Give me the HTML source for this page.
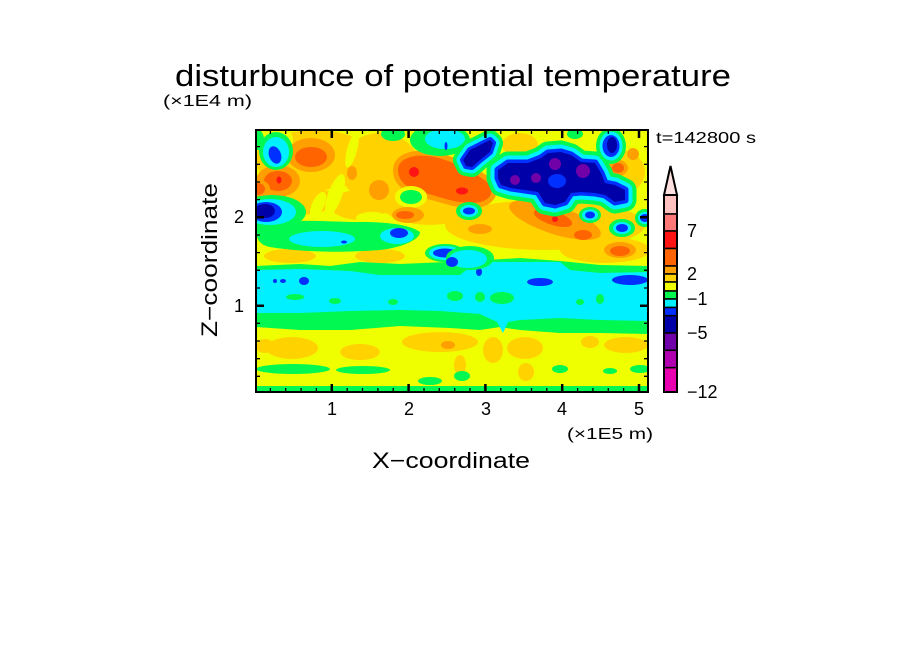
<!DOCTYPE html>
<html><head><meta charset="utf-8"><style>
html,body{margin:0;padding:0;background:#fff;}
svg{display:block;}
text{font-family:"Liberation Sans",sans-serif;fill:#000;}
</style></head><body>
<svg width="904" height="654" viewBox="0 0 904 654" xmlns="http://www.w3.org/2000/svg">
<rect width="904" height="654" fill="#fff"/>
<defs><clipPath id="c"><rect x="256" y="130" width="392" height="262"/></clipPath></defs>

<text x="175" y="86" font-size="31" textLength="556" lengthAdjust="spacingAndGlyphs">disturbunce of potential temperature</text>
<text x="163" y="106" font-size="16" textLength="89" lengthAdjust="spacingAndGlyphs">(×1E4 m)</text>
<text x="656" y="143" font-size="16" textLength="100" lengthAdjust="spacingAndGlyphs">t=142800 s</text>

<g clip-path="url(#c)">
<rect x="256" y="130" width="392" height="262" fill="#f0ff00"/>
<g fill="#ffd200">
<ellipse cx="315" cy="160" rx="60" ry="30"/>
<ellipse cx="380" cy="168" rx="40" ry="35"/>
<ellipse cx="300" cy="200" rx="35" ry="15"/>
<ellipse cx="360" cy="205" rx="30" ry="15"/>
<ellipse cx="430" cy="195" rx="55" ry="30"/>
<ellipse cx="545" cy="225" rx="100" ry="25"/>
<ellipse cx="620" cy="172" rx="25" ry="22"/>
<ellipse cx="605" cy="250" rx="45" ry="13"/>
<ellipse cx="290" cy="256" rx="26" ry="7"/>
<ellipse cx="380" cy="256" rx="25" ry="7"/>
<ellipse cx="480" cy="232" rx="25" ry="10"/>
<ellipse cx="520" cy="145" rx="18" ry="12"/>
</g>
<g fill="#f0ff00">
<ellipse cx="335" cy="195" rx="7" ry="22" transform="rotate(20 335 195)"/>
<ellipse cx="352" cy="150" rx="5" ry="18" transform="rotate(15 352 150)"/>
<ellipse cx="318" cy="205" rx="6" ry="14" transform="rotate(25 318 205)"/>
<ellipse cx="372" cy="218" rx="16" ry="6"/>
<ellipse cx="285" cy="140" rx="8" ry="10"/>
</g>
<ellipse cx="311" cy="155" rx="24" ry="17" fill="#ffa000"/>
<ellipse cx="311" cy="157" rx="16" ry="10" fill="#ff6400"/>
<ellipse cx="278" cy="181" rx="22" ry="16" fill="#ffa000"/>
<ellipse cx="278" cy="181" rx="14" ry="10" fill="#ff6400"/>
<ellipse cx="279" cy="180" rx="2.5" ry="3.5" fill="#ff1414"/>
<ellipse cx="259" cy="189" rx="11" ry="9" fill="#ffa000"/>
<ellipse cx="258" cy="189" rx="7" ry="6" fill="#ff6400"/>
<ellipse cx="352" cy="173" rx="5" ry="7" fill="#ffa000"/>
<ellipse cx="379" cy="190" rx="10" ry="10" fill="#ffa000"/>
<g stroke-linejoin="round">
<path d="M398,170 C398,158 415,153 435,157 C455,162 475,172 488,183 C496,192 490,203 472,203 C455,203 440,197 425,193 C408,189 398,182 398,170 Z" fill="#ffa000" stroke="#ffa000" stroke-width="10"/>
<path d="M398,170 C398,158 415,153 435,157 C455,162 475,172 488,183 C496,192 490,203 472,203 C455,203 440,197 425,193 C408,189 398,182 398,170 Z" fill="#ff6400"/>
</g>
<circle cx="414" cy="172" r="5" fill="#ff1414"/>
<ellipse cx="462" cy="191" rx="6" ry="3.5" fill="#ff1414"/>
<ellipse cx="411" cy="197" rx="16" ry="11" fill="#f0ff00"/>
<ellipse cx="411" cy="197" rx="11" ry="7" fill="#00f850"/>
<ellipse cx="408" cy="215" rx="16" ry="8" fill="#ffa000"/>
<ellipse cx="405" cy="215" rx="9" ry="4" fill="#ff6400"/>
<ellipse cx="555" cy="220" rx="48" ry="14" fill="#ffa000" transform="rotate(18 555 220)"/>
<ellipse cx="553" cy="218" rx="20" ry="7" fill="#ff6400" transform="rotate(18 553 218)"/>
<ellipse cx="583" cy="235" rx="9" ry="5" fill="#ff6400"/>
<circle cx="555" cy="219" r="3" fill="#ff1414"/>
<ellipse cx="620" cy="250" rx="16" ry="8" fill="#ffa000"/>
<ellipse cx="620" cy="251" rx="10" ry="5" fill="#ff6400"/>
<ellipse cx="618" cy="168" rx="10" ry="8" fill="#ffa000"/>
<ellipse cx="618" cy="168" rx="6" ry="5" fill="#ff6400"/>
<ellipse cx="633" cy="154" rx="6" ry="6" fill="#ffa000"/>
<ellipse cx="480" cy="229" rx="12" ry="5" fill="#ffa000"/>

<path d="M256,266 L300,264 L330,266 L360,262 L400,264 L470,261 L520,258 L560,261 L600,265 L648,266 L648,334 L600,333 L560,333 L520,330 L500,327 L480,330 L450,328 L400,326 L350,330 L300,330 L256,327 Z" fill="#00f850"/>
<path d="M256,270 L300,269 L350,271 L380,275 L460,275 L470,267 L480,262 L560,262 L570,270 L600,273 L648,272 L648,321 L600,320 L560,318 L520,320 L508,322 L503,333 L497,322 L480,314 L440,311 L400,310 L350,311 L300,313 L256,313 Z" fill="#00f0ff"/>
<g fill="#00f850">
<ellipse cx="295" cy="297" rx="9" ry="3"/>
<ellipse cx="335" cy="301" rx="6" ry="3"/>
<ellipse cx="393" cy="302" rx="5" ry="3"/>
<ellipse cx="455" cy="296" rx="8" ry="5"/>
<ellipse cx="480" cy="297" rx="5" ry="5"/>
<ellipse cx="502" cy="298" rx="12" ry="6"/>
<ellipse cx="580" cy="302" rx="4" ry="3"/>
<ellipse cx="600" cy="299" rx="4" ry="5"/>
</g>
<g fill="#0030ff">
<ellipse cx="304" cy="281" rx="5" ry="4"/>
<ellipse cx="275" cy="281" rx="2" ry="2"/>
<ellipse cx="283" cy="281" rx="3" ry="2"/>
<ellipse cx="540" cy="282" rx="13" ry="4"/>
<ellipse cx="630" cy="280" rx="18" ry="5"/>
<ellipse cx="479" cy="272" rx="3" ry="4"/>
</g>
<g fill="#ffd200">
<ellipse cx="292" cy="348" rx="26" ry="11"/>
<ellipse cx="360" cy="352" rx="20" ry="8"/>
<ellipse cx="440" cy="342" rx="38" ry="10"/>
<ellipse cx="493" cy="350" rx="10" ry="13"/>
<ellipse cx="525" cy="348" rx="18" ry="11"/>
<ellipse cx="590" cy="342" rx="9" ry="6"/>
<ellipse cx="626" cy="345" rx="22" ry="8"/>
<ellipse cx="526" cy="372" rx="8" ry="9"/>
<ellipse cx="265" cy="346" rx="9" ry="7"/>
<ellipse cx="460" cy="365" rx="6" ry="10"/>
</g>
<ellipse cx="448" cy="345" rx="7" ry="4" fill="#ffa000"/>
<g fill="#00f850">
<ellipse cx="293" cy="369" rx="37" ry="5"/>
<ellipse cx="363" cy="370" rx="27" ry="4"/>
<ellipse cx="430" cy="381" rx="12" ry="4"/>
<ellipse cx="462" cy="376" rx="8" ry="5"/>
<ellipse cx="560" cy="369" rx="8" ry="4"/>
<ellipse cx="610" cy="371" rx="7" ry="3"/>
<ellipse cx="640" cy="369" rx="10" ry="4"/>
<rect x="256" y="386" width="392" height="6"/>
</g>

<ellipse cx="276" cy="151" rx="17" ry="19" fill="#00f850"/>
<ellipse cx="276" cy="152" rx="13" ry="15" fill="#00f0ff"/>
<ellipse cx="275" cy="155" rx="6" ry="9" fill="#0030ff" transform="rotate(-20 275 155)"/>
<ellipse cx="258" cy="140" rx="6" ry="10" fill="#00f850"/>

<path d="M256,225 C290,218 330,222 360,222 C390,222 410,225 420,232 C420,240 400,248 380,250 C340,253 300,252 270,247 C256,244 256,235 256,225 Z" fill="#00f850"/>
<ellipse cx="322" cy="239" rx="33" ry="8" fill="#00f0ff"/>
<ellipse cx="397" cy="236" rx="17" ry="8" fill="#00f0ff"/>
<ellipse cx="399" cy="233" rx="9" ry="5" fill="#0030ff"/>
<ellipse cx="344" cy="242" rx="3" ry="1.5" fill="#0030ff"/>

<ellipse cx="272" cy="212" rx="34" ry="17" fill="#00f850"/>
<ellipse cx="270" cy="212" rx="26" ry="13" fill="#00f0ff"/>
<ellipse cx="266" cy="212" rx="16" ry="10" fill="#0030ff"/>
<ellipse cx="265" cy="211" rx="10" ry="7" fill="#0000a8"/>

<ellipse cx="440" cy="140" rx="30" ry="16" fill="#00f850"/>
<ellipse cx="445" cy="139" rx="20" ry="10" fill="#00f0ff"/>
<ellipse cx="446" cy="146" rx="1.5" ry="4" fill="#0030ff"/>
<ellipse cx="393" cy="134" rx="12" ry="7" fill="#00f850"/>
<ellipse cx="575" cy="134" rx="8" ry="5" fill="#00f850"/>

<g stroke-linejoin="round">
<path d="M466,166 L463,160 L470,150 L480,145 L490,140 L493,143 L490,152 L480,160 L472,167 Z" fill="#00f850" stroke="#00f850" stroke-width="20"/>
<path d="M466,166 L463,160 L470,150 L480,145 L490,140 L493,143 L490,152 L480,160 L472,167 Z" fill="#00f0ff" stroke="#00f0ff" stroke-width="13"/>
<path d="M466,166 L463,160 L470,150 L480,145 L490,140 L493,143 L490,152 L480,160 L472,167 Z" fill="#0030ff" stroke="#0030ff" stroke-width="6"/>
<path d="M466,166 L463,160 L470,150 L480,145 L490,140 L493,143 L490,152 L480,160 L472,167 Z" fill="#0000a8"/>

<path d="M498,170 L508,163 L528,163 L541,158 L548,153 L561,152 L571,155 L581,162 L595,163 L601,173 L605,183 L615,185 L625,190 L625,200 L615,202 L605,195 L595,193 L581,192 L571,193 L565,202 L555,205 L545,203 L538,192 L525,190 L511,188 L501,185 L498,178 Z" fill="#00f850" stroke="#00f850" stroke-width="23"/>
<path d="M498,170 L508,163 L528,163 L541,158 L548,153 L561,152 L571,155 L581,162 L595,163 L601,173 L605,183 L615,185 L625,190 L625,200 L615,202 L605,195 L595,193 L581,192 L571,193 L565,202 L555,205 L545,203 L538,192 L525,190 L511,188 L501,185 L498,178 Z" fill="#00f0ff" stroke="#00f0ff" stroke-width="15"/>
<path d="M498,170 L508,163 L528,163 L541,158 L548,153 L561,152 L571,155 L581,162 L595,163 L601,173 L605,183 L615,185 L625,190 L625,200 L615,202 L605,195 L595,193 L581,192 L571,193 L565,202 L555,205 L545,203 L538,192 L525,190 L511,188 L501,185 L498,178 Z" fill="#0030ff" stroke="#0030ff" stroke-width="7"/>
<path d="M498,170 L508,163 L528,163 L541,158 L548,153 L561,152 L571,155 L581,162 L595,163 L601,173 L605,183 L615,185 L625,190 L625,200 L615,202 L605,195 L595,193 L581,192 L571,193 L565,202 L555,205 L545,203 L538,192 L525,190 L511,188 L501,185 L498,178 Z" fill="#0000a8"/>
</g>
<g fill="#7000a8">
<ellipse cx="515" cy="180" rx="5" ry="5"/>
<ellipse cx="536" cy="178" rx="5" ry="5"/>
<ellipse cx="555" cy="164" rx="6" ry="6"/>
<ellipse cx="583" cy="171" rx="7" ry="7"/>
</g>
<ellipse cx="557" cy="181" rx="9" ry="7" fill="#0030ff"/>

<ellipse cx="611" cy="146" rx="15" ry="18" fill="#00f850"/>
<ellipse cx="611" cy="146" rx="11.5" ry="14.5" fill="#00f0ff"/>
<ellipse cx="611" cy="146" rx="8.5" ry="11" fill="#0030ff"/>
<ellipse cx="612" cy="145" rx="5" ry="8" fill="#0000a8"/>

<g>
<ellipse cx="469" cy="211" rx="13" ry="9" fill="#00f850"/>
<ellipse cx="469" cy="211" rx="9" ry="6" fill="#00f0ff"/>
<ellipse cx="469" cy="211" rx="6" ry="3.5" fill="#0030ff"/>
<ellipse cx="590" cy="215" rx="11" ry="8" fill="#00f850"/>
<ellipse cx="590" cy="215" rx="8" ry="5.5" fill="#00f0ff"/>
<ellipse cx="590" cy="215" rx="5" ry="3.5" fill="#0030ff"/>
<ellipse cx="622" cy="228" rx="13" ry="9" fill="#00f850"/>
<ellipse cx="622" cy="228" rx="9" ry="6" fill="#00f0ff"/>
<ellipse cx="622" cy="228" rx="6" ry="4" fill="#0030ff"/>
<ellipse cx="645" cy="218" rx="10" ry="9" fill="#00f850"/>
<ellipse cx="645" cy="218" rx="7" ry="6" fill="#00f0ff"/>
<ellipse cx="645" cy="218" rx="5" ry="4" fill="#0030ff"/>
<ellipse cx="445" cy="253" rx="20" ry="9" fill="#00f850"/>
<ellipse cx="445" cy="253" rx="16" ry="7" fill="#00f0ff"/>
<ellipse cx="445" cy="253" rx="12" ry="4.5" fill="#0030ff"/>
<ellipse cx="470" cy="258" rx="24" ry="12" fill="#00f850"/>
<ellipse cx="468" cy="259" rx="19" ry="9" fill="#00f0ff"/>
<ellipse cx="452" cy="262" rx="6" ry="5" fill="#0030ff"/>
</g>
</g>

<rect x="256" y="130" width="392" height="262" fill="none" stroke="#000" stroke-width="2"/>
<path stroke="#000" stroke-width="1.3" fill="none" d="
M270.4,392v-4M285.7,392v-4M301.1,392v-4M316.4,392v-4M347.2,392v-4M362.5,392v-4M377.9,392v-4M393.2,392v-4M424,392v-4M439.3,392v-4M454.7,392v-4M470,392v-4M500.8,392v-4M516.1,392v-4M531.5,392v-4M546.8,392v-4M577.6,392v-4M592.9,392v-4M608.3,392v-4M623.6,392v-4
M270.4,130v4M285.7,130v4M301.1,130v4M316.4,130v4M347.2,130v4M362.5,130v4M377.9,130v4M393.2,130v4M424,130v4M439.3,130v4M454.7,130v4M470,130v4M500.8,130v4M516.1,130v4M531.5,130v4M546.8,130v4M577.6,130v4M592.9,130v4M608.3,130v4M623.6,130v4
M256,376.3h4M256,358.7h4M256,341h4M256,323.3h4M256,288h4M256,270.3h4M256,252.6h4M256,235h4M256,199.6h4M256,182h4M256,164.3h4M256,146.6h4
M648,376.3h-4M648,358.7h-4M648,341h-4M648,323.3h-4M648,288h-4M648,270.3h-4M648,252.6h-4M648,235h-4M648,199.6h-4M648,182h-4M648,164.3h-4M648,146.6h-4"/>
<path stroke="#000" stroke-width="2.5" fill="none" d="
M331.8,392v-8M408.6,392v-8M485.4,392v-8M562.2,392v-8M639,392v-8
M331.8,130v8M408.6,130v8M485.4,130v8M562.2,130v8M639,130v8
M256,305.7h8M256,217.3h8M648,305.7h-8M648,217.3h-8"/>

<g font-size="18" text-anchor="middle">
<text x="332" y="415">1</text>
<text x="409" y="415">2</text>
<text x="486" y="415">3</text>
<text x="562" y="415">4</text>
<text x="639" y="415">5</text>
<text x="239" y="223">2</text>
<text x="239" y="312">1</text>
</g>
<text x="567" y="439" font-size="16" textLength="86" lengthAdjust="spacingAndGlyphs">(×1E5 m)</text>
<text x="372" y="468" font-size="22" textLength="158" lengthAdjust="spacingAndGlyphs">X−coordinate</text>
<text transform="translate(217,260) rotate(-90)" font-size="22" text-anchor="middle" textLength="154" lengthAdjust="spacingAndGlyphs">Z−coordinate</text>

<g stroke="#000" stroke-width="1.5">
<polygon points="664,195 670.5,166 677,195" fill="#ffe0e0" stroke-width="2"/>
<rect x="664" y="195" width="13" height="19" fill="#ffc0c0"/>
<rect x="664" y="214" width="13" height="17" fill="#ff7878"/>
<rect x="664" y="231" width="13" height="17.5" fill="#ff1414"/>
<rect x="664" y="248.5" width="13" height="17.5" fill="#ff6400"/>
<rect x="664" y="266" width="13" height="8" fill="#ffa000"/>
<rect x="664" y="274" width="13" height="8" fill="#ffd200"/>
<rect x="664" y="282" width="13" height="9" fill="#f0ff00"/>
<rect x="664" y="291" width="13" height="8" fill="#00f850"/>
<rect x="664" y="299" width="13" height="8.5" fill="#00f0ff"/>
<rect x="664" y="307.5" width="13" height="8.2" fill="#0030ff"/>
<rect x="664" y="315.7" width="13" height="17.3" fill="#0000a8"/>
<rect x="664" y="333" width="13" height="17.3" fill="#7000a8"/>
<rect x="664" y="350.3" width="13" height="17.4" fill="#b000b0"/>
<rect x="664" y="367.7" width="13" height="24.3" fill="#e800b0"/>
<rect x="664" y="195" width="13" height="197" fill="none" stroke-width="2"/>
</g>
<g font-size="18">
<text x="687" y="237">7</text>
<text x="687" y="280">2</text>
<text x="687" y="305">−1</text>
<text x="687" y="339">−5</text>
<text x="687" y="398">−12</text>
</g>
</svg>
</body></html>
